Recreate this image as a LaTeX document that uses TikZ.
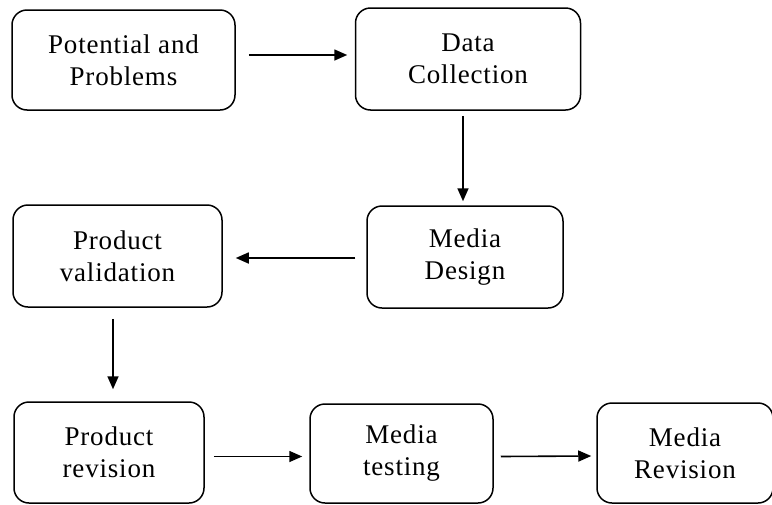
\documentclass[tikz,border=0pt]{standalone}
\usepackage{fontspec}
\setmainfont{Liberation Serif}[LetterSpace=3]
\usetikzlibrary{arrows.meta}
\begin{document}
\begin{tikzpicture}[x=1pt,y=-1pt,
  stagebox/.style={draw=black, line width=1.5pt, rounded corners=15pt, align=center,
    font=\fontsize{27}{32}\selectfont, inner sep=0pt},
  arr/.style={line width=1.6pt, -{Triangle[length=13pt,width=11pt]}}]
\useasboundingbox (0,0) rectangle (772,504);
\node[stagebox, minimum width=223pt, minimum height=100pt] (p1) at (123.5,60) {Potential and\\Problems};
\node[stagebox, minimum width=225pt, minimum height=102pt] (p2) at (468,59) {Data\\Collection};
\node[stagebox, minimum width=196pt, minimum height=102pt] (p3) at (465,257) {Media\\Design};
\node[stagebox, minimum width=209pt, minimum height=102pt] (p4) at (117.5,256) {Product\\validation};
\node[stagebox, minimum width=190pt, minimum height=101pt] (p5) at (109,452.5) {Product\\revision};
\node[stagebox, minimum width=183pt, minimum height=99pt] (p6) at (401.5,453.5) {Media\\testing};
\node[stagebox, minimum width=176pt, minimum height=100pt] (p7) at (685,453) {Media\\Revision};
\draw[arr] ([xshift=13pt,yshift=5pt]p1.east) -- ([xshift=-7.5pt,yshift=4pt]p2.west);
\draw[arr] ([xshift=-5pt,yshift=-5pt]p2.south) -- ([xshift=-2pt,yshift=4pt]p3.north);
\draw[arr] ([xshift=-11pt,yshift=-1pt]p3.west) -- ([xshift=13pt,yshift=-2pt]p4.east);
\draw[arr] ([xshift=-4.5pt,yshift=-11pt]p4.south) -- ([xshift=4pt,yshift=12pt]p5.north);
\draw[arr] ([xshift=9pt,yshift=-4pt]p5.east) -- ([xshift=-7pt,yshift=-3pt]p6.west);
\draw[arr] ([xshift=7pt,yshift=-3pt]p6.east) -- ([xshift=-5pt,yshift=-3pt]p7.west);
\end{tikzpicture}
\end{document}
